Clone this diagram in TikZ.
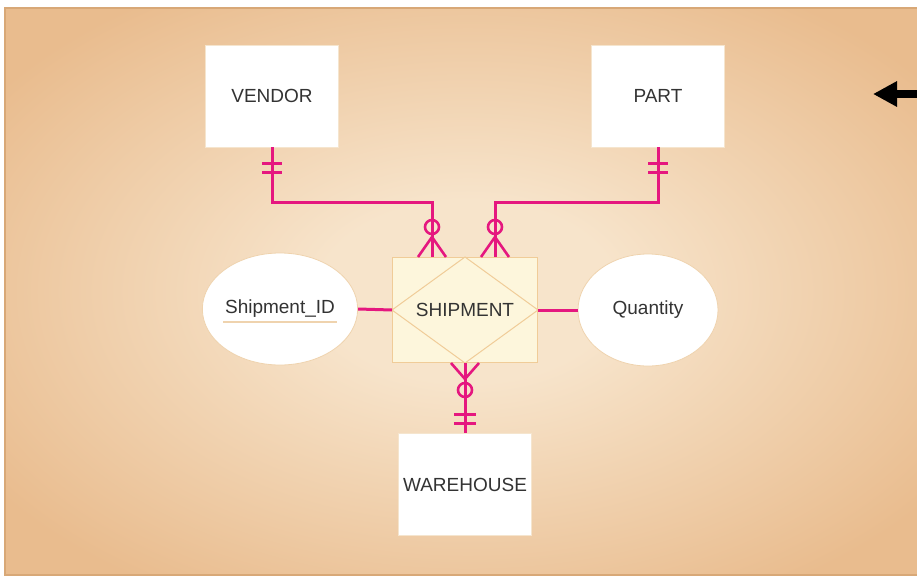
\documentclass[tikz,border=0pt]{standalone}
\usepackage{fontspec}
\setmainfont{Liberation Sans}
\usetikzlibrary{arrows.meta,calc,shapes.geometric}
\definecolor{erpink}{HTML}{E5177F}
\definecolor{bgmid}{HTML}{F7E4CB}
\definecolor{bgedge}{HTML}{E9BC8E}
\definecolor{bgline}{HTML}{D8A877}
\definecolor{boxcream}{HTML}{FDF6DC}
\definecolor{boxline}{HTML}{F0CC98}
\definecolor{attrline}{HTML}{EFD3AE}
\definecolor{txt}{HTML}{333333}
% soft radial fill for the panel behind the diagram
\pgfdeclareradialshading{panelshade}{\pgfpoint{0bp}{0bp}}{%
  color(0bp)=(bgmid); color(8bp)=(bgmid); color(31bp)=(bgedge); color(50bp)=(bgedge)}
\tikzset{
  entity/.style={fill=white, draw=attrline!60, line width=0.5pt, text=txt,
    minimum width=133pt, minimum height=102pt, inner sep=0pt},
  attribute/.style={ellipse, fill=white, draw=attrline, line width=0.8pt, text=txt,
    minimum width=140pt, minimum height=112pt, inner sep=0pt},
  relbox/.style={fill=boxcream, draw=boxline, line width=1pt, text=txt,
    minimum width=145pt, minimum height=105pt, inner sep=0pt},
  rel/.style={draw=erpink, line width=3pt},
  relthin/.style={draw=erpink, line width=2.6pt},
}
\begin{document}
\begin{tikzpicture}[x=1pt, y=-1pt, font=\fontsize{19}{22}\selectfont]
\useasboundingbox (0,0) rectangle (917,581);

% background panel
\begin{scope}
  \clip (0,0) rectangle (917,581);
  \shade[shading=panelshade] (5,8) rectangle (930,575);
  \draw[bgline, line width=1.5pt] (930,8) -- (5,8) -- (5,575) -- (930,575);
\end{scope}

% entities, relationship and attributes
\node[entity] (v) at (272,96) {VENDOR};
\node[entity] (p) at (658,96) {PART};
\node[entity] (w) at (465,484.5) {WAREHOUSE};
\node[relbox] (s) at (465,310) {};
\draw[boxline, line width=1pt] (s.north) -- (s.east) -- (s.south) -- (s.west) -- cycle;
\node[text=txt] at (s.center) {SHIPMENT};
\node[attribute] (sid) at (280,309) {Shipment\_ID};
\node[attribute] (q) at (648,310) {Quantity};
\draw[attrline, line width=1.5pt] ($(sid.center)+(-57,13)$) -- ++(114,0);

% attribute links
\draw[rel] (sid.east) -- (s.west);
\draw[rel] (s.east) -- (q.west);

% VENDOR -- SHIPMENT
\coordinate (vb) at ($(s.north)+(-33,0)$);
\draw[rel] (v.south) |- ($(vb)+(0,-55)$) -- (vb);
\draw[relthin] ($(v.south)+(-10,16)$) -- ++(20,0);
\draw[relthin] ($(v.south)+(-10,25)$) -- ++(20,0);
\draw[relthin] ($(vb)+(-14,0)$) -- ($(vb)+(0,-20)$) -- ($(vb)+(14,0)$);
\draw[relthin] ($(vb)+(0,-30)$) circle[radius=7pt];

% PART -- SHIPMENT
\coordinate (pb) at ($(s.north)+(30,0)$);
\draw[rel] (p.south) |- ($(pb)+(0,-55)$) -- (pb);
\draw[relthin] ($(p.south)+(-10,16)$) -- ++(20,0);
\draw[relthin] ($(p.south)+(-10,25)$) -- ++(20,0);
\draw[relthin] ($(pb)+(-14,0)$) -- ($(pb)+(0,-20)$) -- ($(pb)+(14,0)$);
\draw[relthin] ($(pb)+(0,-30)$) circle[radius=7pt];

% SHIPMENT -- WAREHOUSE
\draw[rel] (s.south) -- (w.north);
\draw[relthin] ($(s.south)+(-14,0)$) -- ($(s.south)+(0,16)$) -- ($(s.south)+(14,0)$);
\draw[relthin] ($(s.south)+(0,27)$) circle[radius=7pt];
\draw[relthin] ($(w.north)+(-11,-19)$) -- ++(22,0);
\draw[relthin] ($(w.north)+(-11,-10)$) -- ++(22,0);

% pointer arrow
\coordinate (atail) at (917,94);
\coordinate (ahead) at (873,94);
\draw[line width=8pt, -{Triangle[length=24pt,width=24pt]}] (atail) -- (ahead);
\end{tikzpicture}
\end{document}
